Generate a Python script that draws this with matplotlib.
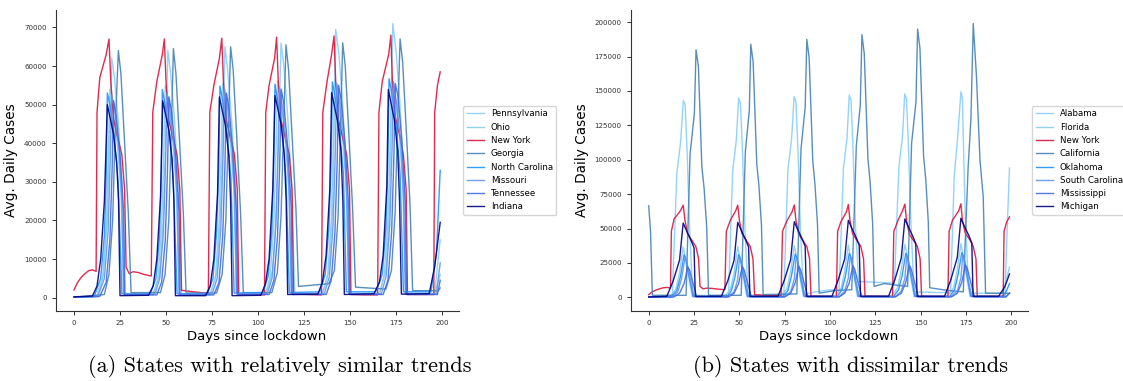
import matplotlib
matplotlib.use('Agg')

import matplotlib.pyplot as plt

# (day, avg daily cases) key points

new_york = [
    (0, 2000), (2, 4000), (4, 5300), (6, 6200), (8, 7000), (10, 7200), (12, 6800),
    (12.5, 48000), (14, 57000), (17.5, 63000), (19, 67000), (20, 56000), (21.5, 46000), (24, 41000),
    (26, 37000), (27.5, 28000), (28.3, 7900), (30, 6200), (32, 6700), (35, 6500), (38, 6000), (42, 5600),
    (42.8, 48000), (45, 56000), (48, 63000), (49.1, 67000), (50, 56000), (51.5, 46000), (54, 41000),
    (56, 37000), (57.5, 28000), (58.4, 1900), (65, 1500), (73, 1100),
    (73.8, 48000), (76, 55000), (79, 62000), (80.3, 67200), (81.2, 56000), (82.7, 46000), (85.2, 41000),
    (87.2, 37000), (88.7, 28000), (89.5, 900), (96, 800), (103.5, 700),
    (104.2, 48000), (106, 55000), (109, 62000), (110.1, 67500), (111, 56000), (112.5, 46000), (115, 41000),
    (117, 37000), (118.5, 28000), (119.3, 900), (127, 800), (134.5, 700),
    (135.2, 48000), (137.5, 56000), (140, 63000), (141.3, 67800), (142.2, 56000), (143.7, 46000),
    (146.2, 41000), (148.2, 37000), (149.7, 28000), (150.5, 800), (158, 700), (165, 700),
    (165.7, 48000), (167.5, 56000), (171, 63000), (172.2, 68000), (173, 56000), (174.5, 47000),
    (177, 42000), (179, 37000), (180.5, 28000), (181.2, 800), (188, 800), (195.5, 800),
    (196, 48000), (197.5, 55000), (199, 58500),
]

# ---- panel (a)
pennsylvania = [
    (0, 100), (12.5, 300), (16, 6000), (18, 20000), (19.5, 45000), (20.5, 62000), (22, 57000),
    (24, 46000), (26, 30000), (28, 800), (43, 700),
    (46.5, 6000), (48.5, 20000), (50, 45000), (51, 64000), (52.5, 58000), (54.5, 47000), (56.5, 30000),
    (58.5, 800), (74, 700),
    (77.5, 6500), (79.5, 21000), (81, 46000), (82, 65000), (83.5, 59000), (85.5, 47000), (87.5, 31000),
    (89.5, 900), (104.5, 900),
    (108, 7000), (110, 22000), (111.5, 47000), (112.5, 66000), (114, 60000), (116, 48000), (118, 31000),
    (120, 1000), (135, 1100),
    (138.5, 7000), (140.5, 23000), (141.5, 50000), (142.2, 69500), (144, 63000), (146, 50000),
    (148, 32000), (150, 1100), (166, 1100),
    (169.5, 7000), (171.5, 24000), (172.5, 51000), (173.2, 71000), (175, 64000), (177, 51000),
    (179, 33000), (181, 1100), (196, 1100), (199, 15000),
]
ohio = [
    (0, 100), (12.5, 400), (15.5, 5000), (17.5, 18000), (18.7, 38000), (19.5, 54000), (21, 50000),
    (23.5, 40000), (25.5, 28000), (27, 900), (43, 900),
    (45.6, 5000), (47.6, 18000), (48.8, 38000), (49.6, 55000), (51.1, 51000), (53.6, 41000),
    (55.6, 28000), (57.1, 900), (74, 900),
    (76.8, 5000), (78.8, 19000), (80, 39000), (80.8, 55500), (82.3, 51000), (84.8, 41000),
    (86.8, 29000), (88.3, 1000), (104, 1000),
    (106.6, 5500), (108.6, 19000), (109.8, 39000), (110.6, 56000), (112.1, 52000), (114.6, 42000),
    (116.6, 29000), (118.1, 1000), (135, 1000),
    (137.8, 5500), (139.8, 20000), (141, 40000), (141.8, 56500), (143.3, 52000), (145.8, 42000),
    (147.8, 30000), (149.3, 1000), (166, 1000),
    (168.6, 6000), (170.6, 20000), (171.8, 40000), (172.6, 57000), (174.1, 53000), (176.6, 43000),
    (178.6, 30000), (180.1, 1000), (196, 1000), (199, 6000),
]
georgia = [
    (0, 100), (16.5, 800), (19, 6000), (21, 20000), (22.5, 45000), (24.1, 64000), (25.5, 58000),
    (27.5, 40000), (29.5, 22000), (31, 1300), (47, 1300),
    (49.5, 6000), (51.5, 20000), (53, 45000), (54, 64500), (55.4, 58000), (57.4, 40000), (59.4, 22000),
    (60.9, 1200), (77.5, 1200),
    (80.5, 6000), (82.5, 20000), (84, 46000), (85.1, 65000), (86.5, 59000), (88.5, 41000), (90.5, 22000),
    (92, 1300), (107.5, 1300),
    (110.5, 6500), (112.5, 21000), (114, 46000), (115.2, 65500), (116.6, 59000), (118.6, 41000),
    (120.6, 23000), (122, 2900), (138.5, 3600),
    (141.5, 7000), (143.5, 21000), (145, 47000), (146, 66000), (147.4, 60000), (149.4, 42000),
    (151.4, 23000), (153, 2700), (169.5, 2200),
    (172.5, 7000), (174.5, 22000), (176, 48000), (177.2, 67000), (178.6, 61000), (180.6, 43000),
    (182.6, 24000), (184, 1800), (198, 1800), (199, 2500),
]
north_carolina = [
    (0, 100), (11, 300), (14.5, 5000), (16.5, 16000), (17.5, 32000), (18.1, 53000), (19.5, 50000),
    (22, 41000), (24, 30000), (26, 1000), (41.5, 1000),
    (44.5, 5000), (46.5, 16000), (47.5, 33000), (48, 53900), (49.5, 50000), (52, 42000), (54, 30000),
    (56, 1000), (72.5, 1000),
    (75.5, 5000), (77.5, 17000), (78.7, 34000), (79.3, 54800), (80.8, 51000), (83.3, 42000),
    (85.3, 31000), (87, 1200), (102.5, 1300),
    (105.5, 5500), (107.5, 17000), (108.6, 35000), (109.2, 55300), (110.7, 51000), (113.2, 43000),
    (115.2, 31000), (117, 1300), (133.5, 1500),
    (136.5, 6000), (138.5, 18000), (139.8, 36000), (140.4, 55900), (141.9, 52000), (144.4, 43000),
    (146.4, 32000), (148, 1500), (164, 1500),
    (167.5, 6000), (169.5, 18000), (170.6, 36000), (171.2, 56700), (172.7, 53000), (175.2, 44000),
    (177.2, 32000), (179, 1500), (194, 1500), (197, 12000), (199, 33000),
]
missouri = [
    (0, 100), (13, 300), (16.5, 5000), (18.5, 17000), (19.7, 36000), (20.5, 52500), (22, 49000),
    (24.5, 38000), (26, 25000), (27, 900), (44, 900),
    (46.6, 5000), (48.6, 17000), (49.8, 36000), (50.6, 53000), (52.1, 49000), (54.6, 38000),
    (56.1, 25000), (57.1, 900), (75, 900),
    (77.8, 5000), (79.8, 18000), (81, 37000), (81.8, 54000), (83.3, 50000), (85.8, 39000),
    (87.3, 26000), (88.3, 1000), (105, 1000),
    (107.6, 5000), (109.6, 18000), (110.8, 37000), (111.6, 54500), (113.1, 50000), (115.6, 39000),
    (117.1, 26000), (118.1, 1000), (136, 1000),
    (138.8, 5500), (140.8, 19000), (142, 38000), (142.8, 55500), (144.3, 51000), (146.8, 40000),
    (148.3, 26000), (149.3, 1000), (167, 1000),
    (169.6, 5500), (171.6, 19000), (172.8, 38000), (173.6, 56000), (175.1, 51000), (177.6, 40000),
    (179.1, 26000), (180.1, 1000), (197, 1000), (199, 9000),
]
tennessee = [
    (0, 100), (14, 300), (17.5, 4000), (19.5, 15000), (20.7, 33000), (21.5, 51000), (23, 47000),
    (25, 37000), (27, 22000), (27.5, 700), (45, 700),
    (47.6, 4000), (49.6, 15000), (50.8, 33000), (51.6, 52000), (53.1, 48000), (55.1, 38000),
    (57.1, 22000), (57.6, 700), (76, 700),
    (78.8, 4000), (80.8, 16000), (82, 34000), (82.8, 53000), (84.3, 49000), (86.3, 38000),
    (88.3, 22000), (88.8, 800), (106, 800),
    (108.6, 4500), (110.6, 16000), (111.8, 35000), (112.6, 54000), (114.1, 50000), (116.1, 39000),
    (118.1, 23000), (118.6, 800), (137, 800),
    (139.8, 4500), (141.8, 17000), (143, 35000), (143.8, 55000), (145.3, 51000), (147.3, 40000),
    (149.3, 23000), (149.8, 800), (168, 800),
    (170.6, 4500), (172.6, 17000), (173.8, 36000), (174.6, 55500), (176.1, 52000), (178.1, 41000),
    (180.1, 24000), (180.6, 800), (197.5, 800), (199, 4500),
]
indiana = [
    (0, 200), (10, 400), (12.5, 3000), (14.5, 10000), (16.5, 25000), (18.1, 50000), (21.4, 42500),
    (23.2, 35000), (24.2, 25000), (25, 500), (40.5, 600),
    (43, 3000), (45, 10000), (47, 26000), (48.2, 51000), (51.5, 43500), (53.3, 36000), (54.3, 25000),
    (55.1, 500), (71.5, 500),
    (74, 3000), (76, 10000), (78, 27000), (79, 52000), (82.3, 44500), (84.1, 37000), (85.1, 25000),
    (85.9, 500), (101.5, 600),
    (104, 3500), (106, 10000), (108, 28000), (109.2, 52400), (112.5, 45000), (114.3, 37000),
    (115.3, 25000), (116.1, 800), (132.5, 900),
    (135, 4000), (137, 11000), (139, 28000), (140, 53100), (143.3, 45500), (145.1, 38000),
    (146.1, 25000), (146.9, 800), (163, 1000),
    (166, 4000), (168, 11000), (170, 29000), (170.8, 53900), (174.1, 46000), (175.9, 38000),
    (176.9, 25000), (177.9, 900), (193, 1000), (196, 8000), (199, 19500),
]

# ---- panel (b)
alabama = [
    (0, 300), (13, 800), (15.5, 90000), (17.5, 112000), (19.1, 143000), (20.1, 140000),
    (21.2, 105000), (22.6, 48000), (24.3, 1500), (44, 1000),
    (46.3, 92000), (48.3, 114000), (49.6, 145000), (50.6, 141000), (51.7, 106000), (53.1, 49000),
    (54.8, 1500), (74.5, 1500),
    (76.8, 93000), (78.8, 115000), (80.2, 146000), (81.2, 142000), (82.3, 107000), (83.7, 49000),
    (85.4, 2000), (92, 4000), (100, 5500), (105, 5000),
    (107.4, 94000), (109.4, 116000), (110.6, 147000), (111.6, 143000), (112.7, 108000),
    (114.1, 50000), (115.8, 11500), (125, 11000), (133, 10500), (135.5, 10000),
    (138, 95000), (140, 117000), (141.2, 148000), (142.2, 144000), (143.3, 108000), (144.7, 51000),
    (146.4, 4000), (160, 3500), (166.5, 3500),
    (168.5, 88000), (170.5, 118000), (172.2, 149500), (173, 145000), (174.4, 68000), (176.2, 10000),
    (177.5, 3000), (196.5, 3000), (198, 60000), (199, 94000),
]
florida = [
    (0, 200), (12, 500), (15, 6000), (17, 18000), (19, 36600), (20, 30000), (22, 15000), (24, 800),
    (42, 800), (45.1, 6000), (47.1, 18000), (49.1, 37000), (50.1, 30000), (52.1, 15000), (54.1, 800),
    (73, 800), (76.3, 6500), (78.3, 19000), (80.3, 37500), (81.3, 31000), (83.3, 15000), (85.3, 900),
    (103, 900), (106.1, 6500), (108.1, 19000), (110.1, 38000), (111.1, 31000), (113.1, 16000),
    (115.1, 900), (134, 900), (137.3, 7000), (139.3, 20000), (141.3, 38500), (142.3, 32000),
    (144.3, 16000), (146.3, 900), (165, 900), (168.2, 7000), (170.2, 20000), (172.2, 39000),
    (173.2, 32000), (175.2, 16000), (177.2, 900), (195, 900), (199, 22000),
]
california = [
    (0, 66500), (1, 48000), (2, 1500), (20.6, 1500), (22.8, 104000), (25.2, 134000), (26.1, 180000),
    (27.4, 168000), (29.3, 95000), (30.5, 80000), (32, 51000), (33, 1500),
    (51, 1500), (53.3, 106000), (55.5, 136000), (56.3, 184000), (57.6, 171000), (59.6, 97000),
    (60.8, 81000), (62.2, 52000), (63.1, 2000), (81.7, 2500),
    (84, 108000), (86.3, 138000), (87.2, 187500), (88.5, 174000), (90.5, 99000), (91.7, 82000),
    (93.1, 53000), (94, 3000), (103, 5000), (112, 5500),
    (114.5, 110000), (116.7, 140000), (117.6, 191000), (118.9, 177000), (120.9, 101000),
    (122.1, 84000), (123.5, 54000), (124.3, 8000), (130, 10000), (136, 9000), (142.8, 8000),
    (145, 112000), (147.4, 142000), (148.3, 195000), (149.6, 181000), (151.6, 103000),
    (152.8, 86000), (154.2, 55000), (155, 7000), (165, 5000), (173.5, 4000),
    (176.2, 95000), (177.7, 129000), (179, 199000), (180.8, 160000), (182.7, 100000),
    (184.5, 73000), (185.8, 3000), (199, 3000),
]
oklahoma = [
    (0, 100), (12.5, 300), (15.5, 5000), (17.5, 15000), (19.5, 31000), (20.5, 28000), (22.5, 14000),
    (24.5, 500), (43.5, 500), (45.6, 5000), (47.6, 15000), (49.6, 31000), (50.6, 28000),
    (52.6, 14000), (54.6, 500), (74, 500), (76.8, 5000), (78.8, 16000), (80.8, 31500), (81.8, 28500),
    (83.8, 14000), (85.8, 600), (104, 600), (106.6, 5500), (108.6, 16000), (110.6, 32000),
    (111.6, 29000), (113.6, 15000), (115.6, 600), (135, 600), (137.8, 5500), (139.8, 16000),
    (141.8, 32000), (142.8, 29000), (144.8, 15000), (146.8, 600), (166, 600), (168.7, 5500),
    (170.7, 17000), (172.7, 32500), (173.7, 29500), (175.7, 15000), (177.7, 600), (196, 600),
    (199, 10000),
]
south_carolina = [
    (0, 100), (13, 300), (16, 4000), (18, 13000), (20, 28500), (21, 26000), (23, 13000), (25, 500),
    (44, 500), (47.1, 4000), (49.1, 13000), (50.1, 29000), (51.1, 26000), (53.1, 13000), (55.1, 500),
    (75, 500), (78.3, 4000), (80.3, 13500), (81.3, 29000), (82.3, 26000), (84.3, 13000), (86.3, 500),
    (105, 500), (108.1, 4500), (110.1, 14000), (111.1, 29500), (112.1, 26500), (114.1, 13000),
    (116.1, 500), (136, 500), (139.3, 4500), (141.3, 14000), (142.3, 29500), (143.3, 26500),
    (145.3, 13000), (147.3, 500), (166.5, 500), (170.2, 4500), (172.2, 14000), (173.2, 30000),
    (174.2, 27000), (176.2, 13000), (178.2, 500), (197, 500), (199, 3000),
]
mississippi = [
    (0, 100), (14, 300), (17, 3000), (19.5, 10000), (21.5, 22000), (22.5, 20000), (24.5, 10000),
    (26.5, 300), (44, 300), (47.1, 3000), (49.6, 10000), (51.6, 22500), (52.6, 20000), (54.6, 10000),
    (56.6, 300), (75, 300), (78.3, 3000), (80.8, 10500), (82.8, 22500), (83.8, 20000), (85.8, 10000),
    (87.8, 300), (105, 300), (108.1, 3000), (110.6, 10500), (112.6, 23000), (113.6, 20500),
    (115.6, 10000), (117.6, 300), (136, 300), (139.3, 3000), (141.8, 11000), (143.8, 23000),
    (144.8, 20500), (146.8, 10000), (148.8, 300), (167, 300), (170.2, 3000), (172.7, 11000),
    (174.7, 23500), (175.7, 21000), (177.7, 10500), (179.7, 300), (197, 300), (199, 3000),
]
michigan = [
    (0, 300), (10, 800), (13.5, 12000), (17, 27000), (19, 54000), (21, 48000), (23.5, 41000),
    (25, 36000), (25.7, 800), (40.1, 800), (43.6, 12000), (47.1, 27000), (49.1, 54500), (51.1, 48500),
    (53.6, 41500), (55.1, 36500), (55.8, 800), (71.3, 800), (74.8, 12500), (78.3, 27500),
    (80.3, 55000), (82.3, 49000), (84.8, 42000), (86.3, 37000), (87, 800), (101.1, 800),
    (104.6, 13000), (108.1, 28000), (110.1, 56000), (112.1, 50000), (114.6, 43000), (116.1, 38000),
    (116.8, 800), (132.3, 800), (135.8, 13000), (139.3, 28500), (141.3, 57000), (143.3, 51000),
    (145.8, 44000), (147.3, 39000), (148, 800), (163.2, 800), (166.7, 13000), (170.2, 29000),
    (172.2, 57500), (174.2, 51500), (176.7, 44500), (178.2, 39500), (178.9, 800), (193, 800),
    (196.5, 8000), (199, 17000),
]

colors = ['lightskyblue', 'skyblue', 'crimson', 'steelblue',
          'dodgerblue', 'cornflowerblue', 'royalblue', 'navy']

panel_a = [('Pennsylvania', pennsylvania), ('Ohio', ohio), ('New York', new_york),
           ('Georgia', georgia), ('North Carolina', north_carolina), ('Missouri', missouri),
           ('Tennessee', tennessee), ('Indiana', indiana)]
panel_b = [('Alabama', alabama), ('Florida', florida), ('New York', new_york),
           ('California', california), ('Oklahoma', oklahoma), ('South Carolina', south_carolina),
           ('Mississippi', mississippi), ('Michigan', michigan)]

fig = plt.figure(figsize=(11.23, 3.81), dpi=100)
ax1 = fig.add_axes([0.0496, 0.184, 0.3587, 0.790])
ax2 = fig.add_axes([0.5616, 0.184, 0.3534, 0.790])

for ax, panel in [(ax1, panel_a), (ax2, panel_b)]:
    for (name, pts), c in zip(panel, colors):
        days, cases = zip(*pts)
        ax.plot(days, cases, color=c, lw=1.0, alpha=0.9, label=name)
    ax.set_xticks([0, 25, 50, 75, 100, 125, 150, 175, 200])
    ax.tick_params(axis='both', labelsize=5.1, length=3, width=0.7, colors='#333333')
    for side in ['top', 'right']:
        ax.spines[side].set_visible(False)
    for side in ['left', 'bottom']:
        ax.spines[side].set_color('#333333')
    ax.set_xlabel('Days since lockdown', fontsize=9.5, labelpad=3)
    ax.set_ylabel('Avg. Daily Cases', fontsize=9.8)
    ax.legend(loc='center left', bbox_to_anchor=(1.012, 0.5), borderaxespad=0,
              fontsize=6.2, frameon=True)

fig.text(0.249, 0.037, '(a) States with relatively similar trends',
         family='cmr10', fontsize=16, ha='center', va='center')
fig.text(0.757, 0.037, '(b) States with dissimilar trends',
         family='cmr10', fontsize=16, ha='center', va='center')

plt.savefig('out.png', dpi=100)
plt.close(fig)
